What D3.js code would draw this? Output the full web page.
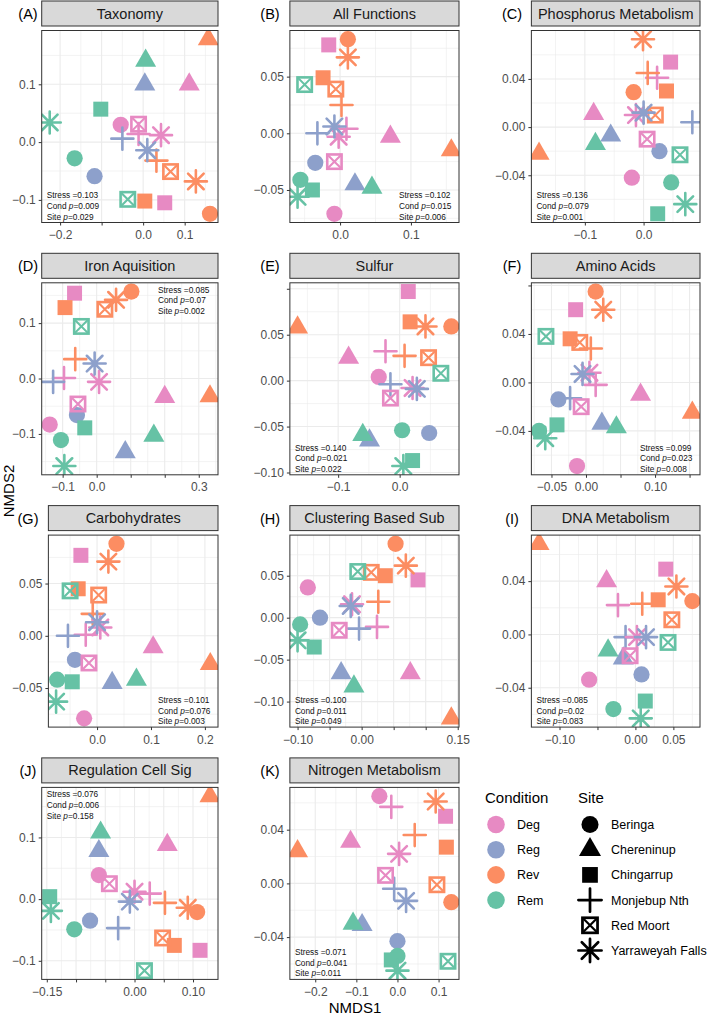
<!DOCTYPE html>
<html lang="en">
<head>
<meta charset="utf-8">
<title>NMDS panels</title>
<script src="https://cdnjs.cloudflare.com/ajax/libs/d3/7.8.5/d3.min.js"></script>
<style>
  body { margin: 0; background: #fff; }
  svg text { font-family: "Liberation Sans", Arial, Helvetica, sans-serif; }
</style>
</head>
<body>
<div id="chart"></div>
<script>
// categories
var conditions = ["Deg", "Reg", "Rev", "Rem"];
var condColors = ["#E78AC3", "#8DA0CB", "#FC8D62", "#66C2A5"];
var sites = ["Beringa", "Chereninup", "Chingarrup", "Monjebup Nth", "Red Moort", "Yarraweyah Falls"];
var siteCodes = ["Ber", "Che", "Chi", "Mon", "Red", "Yar"];

var titles = ["Taxonomy", "All Functions", "Phosphorus Metabolism", "Iron Aquisition", "Sulfur",
  "Amino Acids", "Carbohydrates", "Clustering Based Sub", "DNA Metabolism", "Regulation Cell Sig",
  "Nitrogen Metabolism"];
var tags = ["(A)", "(B)", "(C)", "(D)", "(E)", "(F)", "(G)", "(H)", "(I)", "(J)", "(K)"];

// stats per panel
var stress = ["0.103", "0.102", "0.136", "0.085", "0.140", "0.099", "0.101", "0.100", "0.085", "0.076", "0.071"];
var condP  = ["0.009", "0.015", "0.079", "0.07", "0.021", "0.023", "0.076", "0.011", "0.02", "0.006", "0.041"];
var siteP  = ["0.029", "0.006", "0.001", "0.002", "0.022", "0.008", "0.003", "0.049", "0.083", "0.158", "0.011"];
var statPos = ["bl", "br", "bl", "tr", "bl", "br", "br", "bl", "bl", "tl", "bl"];

// axis breaks and which of them carry a label
var xBreaks = [[-0.2, -0.1, 0, 0.1], [0, 0.1], [-0.1, 0], [-0.1, 0, 0.1, 0.2, 0.3], [-0.1, 0],
  [-0.05, 0, 0.05, 0.1, 0.15], [0, 0.1, 0.2], [-0.1, -0.05, 0, 0.05, 0.1, 0.15], [-0.1, -0.05, 0, 0.05],
  [-0.15, -0.1, -0.05, 0, 0.05, 0.1], [-0.2, -0.1, 0, 0.1]];
var xLabelled = [[-0.2, 0, 0.1], [0, 0.1], [-0.1, 0], [-0.1, 0, 0.3], [-0.1, 0], [-0.05, 0, 0.1],
  [0, 0.1, 0.2], [-0.1, 0, 0.15], [-0.1, 0, 0.05], [-0.15, 0, 0.1], [-0.2, -0.1, 0, 0.1]];
var xDigits = [1, 1, 1, 1, 1, 2, 1, 2, 2, 2, 1];
var yBreaks = [[-0.1, 0, 0.1], [-0.05, 0, 0.05], [-0.04, 0, 0.04], [-0.1, 0, 0.1], [-0.1, -0.05, 0, 0.05, 0.1],
  [-0.04, 0, 0.04, 0.08], [-0.05, 0, 0.05], [-0.1, -0.05, 0, 0.05], [-0.04, 0, 0.04], [-0.1, 0, 0.1],
  [-0.04, 0, 0.04]];
var yLabelled = [[-0.1, 0, 0.1], [-0.05, 0, 0.05], [-0.04, 0, 0.04], [-0.1, 0, 0.1], [-0.1, -0.05, 0, 0.05],
  [-0.04, 0, 0.04], [-0.05, 0, 0.05], [-0.1, -0.05, 0, 0.05], [-0.04, 0, 0.04], [-0.1, 0, 0.1],
  [-0.04, 0, 0.04]];
var yDigits = [1, 2, 2, 1, 2, 2, 2, 2, 2, 1, 2];

// points: [condition, site, NMDS1, NMDS2]
var ptsA = [["Rev","Che",0.157,0.178],["Rem","Che",0.006,0.141],["Reg","Che",0.004,0.100],["Deg","Che",0.111,0.100],
  ["Rem","Chi",-0.102,0.057],["Rem","Yar",-0.225,0.034],["Deg","Ber",-0.054,0.030],["Deg","Red",-0.011,0.031],
  ["Deg","Mon",-0.011,0.014],["Deg","Yar",0.043,0.012],["Reg","Mon",-0.050,0.006],["Reg","Yar",0.010,-0.014],
  ["Rev","Mon",0.032,-0.032],["Rev","Red",0.066,-0.051],["Rev","Yar",0.127,-0.068],["Rem","Ber",-0.165,-0.028],
  ["Reg","Ber",-0.117,-0.059],["Rem","Red",-0.037,-0.099],["Rev","Chi",0.004,-0.102],["Deg","Chi",0.052,-0.105],
  ["Rev","Ber",0.161,-0.124]];
var ptsB = [["Rev","Ber",0.011,0.083],["Deg","Chi",-0.016,0.078],["Rev","Yar",0.011,0.067],["Rev","Chi",-0.024,0.049],
  ["Rem","Red",-0.050,0.043],["Rev","Red",-0.006,0.039],["Rev","Mon",0.002,0.025],["Reg","Mon",-0.032,0.000],
  ["Reg","Yar",-0.008,0.006],["Deg","Mon",0.009,0.004],["Deg","Yar",-0.002,-0.003],["Deg","Che",0.071,-0.003],
  ["Rev","Che",0.157,-0.015],["Reg","Ber",-0.035,-0.026],["Deg","Red",-0.008,-0.025],["Reg","Che",0.021,-0.045],
  ["Rem","Che",0.045,-0.048],["Rem","Ber",-0.056,-0.041],["Rem","Chi",-0.039,-0.050],["Rem","Yar",-0.060,-0.056],
  ["Deg","Ber",-0.008,-0.071]];
var ptsC = [["Rev","Yar",-0.001,0.073],["Deg","Chi",0.046,0.054],["Rev","Mon",0.007,0.045],["Deg","Mon",0.023,0.041],
  ["Rev","Ber",-0.017,0.029],["Rev","Chi",0.039,0.030],["Deg","Yar",-0.013,0.010],["Reg","Yar",0.000,0.012],
  ["Rev","Red",0.020,0.010],["Deg","Che",-0.085,0.011],["Reg","Mon",0.083,0.004],["Reg","Che",-0.056,-0.007],
  ["Rem","Che",-0.082,-0.014],["Deg","Red",0.006,-0.010],["Rev","Che",-0.178,-0.022],["Reg","Ber",0.027,-0.020],
  ["Rem","Red",0.062,-0.023],["Deg","Ber",-0.020,-0.042],["Rem","Ber",0.047,-0.046],["Rem","Yar",0.071,-0.064],
  ["Rem","Chi",0.024,-0.072]];
var ptsD = [["Rev","Ber",0.102,0.157],["Deg","Chi",-0.065,0.154],["Rev","Yar",0.057,0.142],["Rev","Chi",-0.093,0.128],
  ["Rev","Red",0.024,0.125],["Rem","Red",-0.045,0.094],["Rev","Mon",-0.063,0.035],["Reg","Yar",-0.006,0.027],
  ["Deg","Mon",-0.096,0.001],["Reg","Mon",-0.128,-0.006],["Deg","Yar",0.007,-0.006],["Deg","Che",0.200,-0.033],
  ["Rev","Che",0.333,-0.032],["Deg","Red",-0.055,-0.046],["Reg","Ber",-0.058,-0.066],["Deg","Ber",-0.138,-0.083],
  ["Rem","Chi",-0.035,-0.089],["Rem","Ber",-0.105,-0.111],["Rem","Che",0.168,-0.103],["Reg","Che",0.084,-0.133],
  ["Rem","Yar",-0.095,-0.158]];
var ptsE = [["Deg","Chi",0.014,0.097],["Rev","Chi",0.017,0.064],["Rev","Yar",0.042,0.059],["Rev","Ber",0.084,0.059],
  ["Rev","Che",-0.166,0.058],["Deg","Mon",-0.023,0.032],["Rev","Mon",0.008,0.027],["Rev","Red",0.047,0.025],
  ["Deg","Che",-0.083,0.025],["Rem","Red",0.067,0.008],["Deg","Ber",-0.034,0.004],["Reg","Mon",-0.015,-0.004],
  ["Deg","Yar",0.021,-0.008],["Reg","Yar",0.028,-0.009],["Deg","Red",-0.015,-0.019],["Rem","Ber",0.004,-0.054],
  ["Reg","Ber",0.048,-0.057],["Rem","Che",-0.060,-0.059],["Reg","Che",-0.049,-0.065],["Rem","Chi",0.021,-0.087],
  ["Rem","Yar",0.006,-0.093]];
var ptsF = [["Rev","Ber",0.014,0.075],["Deg","Chi",-0.015,0.060],["Rev","Yar",0.025,0.060],["Rem","Red",-0.058,0.038],
  ["Rev","Chi",-0.023,0.036],["Rev","Red",-0.009,0.033],["Rev","Mon",0.007,0.028],["Reg","Yar",-0.005,0.007],
  ["Deg","Yar",0.005,0.008],["Deg","Mon",0.014,-0.002],["Reg","Ber",-0.040,-0.014],["Reg","Mon",-0.023,-0.013],
  ["Deg","Red",-0.007,-0.020],["Deg","Che",0.079,-0.010],["Rev","Che",0.154,-0.025],["Rem","Chi",-0.042,-0.035],
  ["Reg","Che",0.023,-0.034],["Rem","Che",0.044,-0.037],["Rem","Ber",-0.068,-0.040],["Rem","Yar",-0.059,-0.046],
  ["Deg","Ber",-0.013,-0.069]];
var ptsG = [["Rev","Ber",0.036,0.088],["Deg","Chi",-0.030,0.077],["Rev","Yar",0.021,0.071],["Rem","Red",-0.050,0.043],
  ["Rev","Chi",-0.035,0.045],["Rev","Red",0.003,0.039],["Rev","Mon",-0.008,0.021],["Reg","Yar",0.000,0.013],
  ["Deg","Yar",0.006,0.008],["Deg","Mon",-0.021,0.001],["Reg","Mon",-0.054,0.000],["Deg","Che",0.104,-0.011],
  ["Reg","Ber",-0.041,-0.023],["Deg","Red",-0.015,-0.026],["Rev","Che",0.210,-0.027],["Rem","Ber",-0.074,-0.042],
  ["Rem","Chi",-0.046,-0.044],["Rem","Che",0.073,-0.042],["Reg","Che",0.028,-0.045],["Rem","Yar",-0.076,-0.063],
  ["Deg","Ber",-0.024,-0.079]];
var ptsH = [["Rev","Ber",0.053,0.088],["Rev","Yar",0.069,0.062],["Rem","Red",-0.006,0.055],["Rev","Red",0.015,0.054],
  ["Rev","Chi",0.037,0.050],["Deg","Chi",0.088,0.045],["Deg","Ber",-0.084,0.036],["Rev","Mon",0.026,0.019],
  ["Reg","Yar",-0.017,0.014],["Deg","Yar",-0.015,0.016],["Reg","Ber",-0.065,0.000],["Rem","Ber",-0.096,-0.008],
  ["Deg","Mon",0.024,-0.011],["Reg","Mon",-0.004,-0.013],["Deg","Red",-0.035,-0.015],["Rem","Yar",-0.100,-0.027],
  ["Rem","Chi",-0.074,-0.035],["Reg","Che",-0.032,-0.066],["Deg","Che",0.076,-0.066],["Rem","Che",-0.012,-0.082],
  ["Rev","Che",0.140,-0.120]];
var ptsI = [["Rev","Che",-0.127,0.068],["Deg","Chi",0.040,0.049],["Deg","Che",-0.038,0.040],["Rev","Yar",0.054,0.036],
  ["Rev","Ber",0.075,0.025],["Rev","Chi",0.030,0.026],["Deg","Mon",-0.023,0.022],["Rev","Mon",0.009,0.023],
  ["Rev","Red",0.048,0.011],["Reg","Mon",-0.013,-0.002],["Deg","Yar",0.002,-0.002],["Reg","Yar",0.014,-0.002],
  ["Rem","Red",0.043,-0.006],["Rem","Che",-0.036,-0.012],["Deg","Red",-0.007,-0.016],["Reg","Che",-0.016,-0.018],
  ["Reg","Ber",0.008,-0.030],["Deg","Ber",-0.061,-0.034],["Rem","Chi",0.013,-0.050],["Rem","Ber",-0.029,-0.056],
  ["Rem","Yar",0.007,-0.063]];
var ptsJ = [["Rev","Che",0.129,0.167],["Rem","Che",-0.058,0.108],["Reg","Che",-0.061,0.078],["Deg","Che",0.056,0.088],
  ["Deg","Ber",-0.061,0.039],["Deg","Red",-0.043,0.025],["Deg","Yar",0.000,0.012],["Deg","Mon",0.026,0.009],
  ["Rem","Chi",-0.145,0.004],["Reg","Yar",-0.008,-0.004],["Rev","Mon",0.052,-0.006],["Rem","Yar",-0.143,-0.019],
  ["Rev","Yar",0.091,-0.014],["Rev","Ber",0.107,-0.021],["Reg","Ber",-0.076,-0.035],["Rem","Ber",-0.103,-0.049],
  ["Reg","Mon",-0.028,-0.047],["Rev","Red",0.048,-0.063],["Rev","Chi",0.068,-0.075],["Deg","Chi",0.112,-0.083],
  ["Rem","Red",0.017,-0.116]];
var ptsK = [["Deg","Ber",-0.044,0.065],["Deg","Mon",-0.015,0.057],["Rev","Yar",0.093,0.061],["Deg","Chi",0.117,0.050],
  ["Rev","Mon",0.042,0.036],["Deg","Che",-0.114,0.031],["Rev","Che",-0.243,0.024],["Rev","Chi",0.119,0.027],
  ["Deg","Yar",0.004,0.022],["Deg","Red",-0.029,0.006],["Rev","Red",0.096,-0.001],["Reg","Mon",-0.008,-0.004],
  ["Reg","Yar",0.021,-0.013],["Rev","Ber",0.131,-0.014],["Rem","Che",-0.108,-0.030],["Reg","Che",-0.086,-0.031],
  ["Reg","Ber",0.000,-0.043],["Rem","Ber",0.000,-0.054],["Rem","Chi",-0.015,-0.057],["Rem","Red",0.123,-0.058],
  ["Rem","Yar",0.000,-0.065]];

var panels = [ptsA, ptsB, ptsC, ptsD, ptsE, ptsF, ptsG, ptsH, ptsI, ptsJ, ptsK];

var W = 709, H = 1019;
var svg = d3.select("#chart").append("svg").attr("width", W).attr("height", H);
svg.append("rect").attr("width", W).attr("height", H).attr("fill", "#fff");

var color = d3.scaleOrdinal().domain(conditions).range(condColors);

function measure(txt, size) {
  var t = svg.append("text").attr("font-size", size).text(txt);
  var w = t.node().getComputedTextLength();
  t.remove();
  return w;
}

function fmt(v, digits) {
  var s = Math.abs(v).toFixed(digits);
  return (v < -1e-9 ? "\u2212" : "") + s;
}

function has(list, v) {
  return list.some(function(d) { return Math.abs(d - v) < 1e-9; });
}

// ggplot-ish point shapes
var R = 7.8, LW = 2.6;
function drawShape(g, site, cx, cy, col, scale) {
  var k = scale || 1, r = R * k;
  var s = g.append("g").attr("transform", "translate(" + cx + "," + cy + ")");
  if (site == "Ber") {
    s.append("circle").attr("r", r * 1.04).attr("fill", col);
  } else if (site == "Che") {
    var top = 1.555 * r, bot = 0.778 * r, hw = 1.347 * r;
    s.append("path").attr("d", "M0," + (-top) + "L" + hw + "," + bot + "L" + (-hw) + "," + bot + "Z").attr("fill", col);
  } else if (site == "Chi") {
    var h = r * 0.96;
    s.append("rect").attr("x", -h).attr("y", -h).attr("width", 2 * h).attr("height", 2 * h).attr("fill", col);
  } else if (site == "Mon") {
    var a = 1.414 * r;
    s.append("path").attr("d", "M" + (-a) + ",0H" + a + "M0," + (-a) + "V" + a)
      .attr("stroke", col).attr("stroke-width", LW * k).attr("stroke-linecap", "round").attr("fill", "none");
  } else if (site == "Red") {
    var b = r * 0.92;
    s.append("rect").attr("x", -b).attr("y", -b).attr("width", 2 * b).attr("height", 2 * b)
      .attr("fill", "none").attr("stroke", col).attr("stroke-width", LW * k);
    s.append("path").attr("d", "M" + (-b) + "," + (-b) + "L" + b + "," + b + "M" + (-b) + "," + b + "L" + b + "," + (-b))
      .attr("stroke", col).attr("stroke-width", LW * k * 0.8).attr("fill", "none");
  } else if (site == "Yar") {
    var p = 1.414 * r, q = r;
    s.append("path").attr("d", "M" + (-p) + ",0H" + p + "M0," + (-p) + "V" + p +
        "M" + (-q) + "," + (-q) + "L" + q + "," + q + "M" + (-q) + "," + q + "L" + q + "," + (-q))
      .attr("stroke", col).attr("stroke-width", LW * k).attr("stroke-linecap", "round").attr("fill", "none");
  }
}

panels.forEach(function(pts, i) {
  var col = i % 3, row = Math.floor(i / 3);
  var right = 218 + 241 * col;
  var labLeft = 12.5 + 241.5 * col;
  var maxW = d3.max(yLabelled[i], function(v) { return measure(fmt(v, yDigits[i]), 12); });
  var left = labLeft + maxW + 5.5;
  var rowTop = 1 + 252.3 * row;
  var top = rowTop + 29.5, bottom = top + 192;

  var xe = d3.extent(pts, function(d) { return d[2]; });
  var ye = d3.extent(pts, function(d) { return d[3]; });
  var xp = (xe[1] - xe[0]) * 0.05, yp = (ye[1] - ye[0]) * 0.05;
  var x = d3.scaleLinear().domain([xe[0] - xp, xe[1] + xp]).range([left, right]);
  var y = d3.scaleLinear().domain([ye[0] - yp, ye[1] + yp]).range([bottom, top]);

  var g = svg.append("g");
  g.append("rect").attr("x", left).attr("y", top).attr("width", right - left).attr("height", bottom - top).attr("fill", "#fff");

  // minor grid
  function minors(br, dom) {
    var step = br[1] - br[0], out = [];
    for (var k = -30; k <= 30; k++) {
      var v = br[0] + step * (k + 0.5);
      if (v > dom[0] && v < dom[1]) out.push(v);
    }
    return out;
  }
  var xd = x.domain(), yd = y.domain();
  g.selectAll(".mx").data(minors(xBreaks[i], xd)).enter().append("line")
    .attr("x1", function(d) { return x(d); }).attr("x2", function(d) { return x(d); })
    .attr("y1", top).attr("y2", bottom).attr("stroke", "#EBEBEB").attr("stroke-width", 0.6);
  g.selectAll(".my").data(minors(yBreaks[i], yd)).enter().append("line")
    .attr("y1", function(d) { return y(d); }).attr("y2", function(d) { return y(d); })
    .attr("x1", left).attr("x2", right).attr("stroke", "#EBEBEB").attr("stroke-width", 0.6);
  var xb = xBreaks[i].filter(function(v) { return v >= xd[0] && v <= xd[1]; });
  var yb = yBreaks[i].filter(function(v) { return v >= yd[0] && v <= yd[1]; });
  g.selectAll(".gx").data(xb).enter().append("line")
    .attr("x1", function(d) { return x(d); }).attr("x2", function(d) { return x(d); })
    .attr("y1", top).attr("y2", bottom).attr("stroke", "#EBEBEB").attr("stroke-width", 1.1);
  g.selectAll(".gy").data(yb).enter().append("line")
    .attr("y1", function(d) { return y(d); }).attr("y2", function(d) { return y(d); })
    .attr("x1", left).attr("x2", right).attr("stroke", "#EBEBEB").attr("stroke-width", 1.1);

  // points, drawn site by site
  var clipId = "clip" + i;
  svg.append("clipPath").attr("id", clipId).append("rect")
    .attr("x", left).attr("y", top).attr("width", right - left).attr("height", bottom - top);
  var pg = g.append("g").attr("clip-path", "url(#" + clipId + ")");
  var ordered = pts.slice().sort(function(a, b) {
    return (siteCodes.indexOf(a[1]) - siteCodes.indexOf(b[1])) || (conditions.indexOf(a[0]) - conditions.indexOf(b[0]));
  });
  ordered.forEach(function(d) {
    drawShape(pg, d[1], x(d[2]), y(d[3]), color(d[0]));
  });

  // border
  g.append("rect").attr("x", left).attr("y", top).attr("width", right - left).attr("height", bottom - top)
    .attr("fill", "none").attr("stroke", "#333").attr("stroke-width", 1);

  // axes
  var xAxis = d3.axisBottom(x).tickValues(xb).tickSize(3).tickPadding(5)
    .tickFormat(function(d) { return has(xLabelled[i], d) ? fmt(d, xDigits[i]) : ""; });
  var yAxis = d3.axisLeft(y).tickValues(yb).tickSize(3).tickPadding(3)
    .tickFormat(function(d) { return has(yLabelled[i], d) ? fmt(d, yDigits[i]) : ""; });
  var ax = g.append("g").attr("transform", "translate(0," + bottom + ")").call(xAxis);
  var ay = g.append("g").attr("transform", "translate(" + left + ",0)").call(yAxis);
  [ax, ay].forEach(function(a) {
    a.select(".domain").remove();
    a.selectAll("line").attr("stroke", "#333");
    a.selectAll("text").attr("fill", "#4D4D4D").attr("font-size", 12).attr("font-family", null);
  });

  // strip
  g.append("rect").attr("x", left).attr("y", rowTop).attr("width", right - left).attr("height", 25)
    .attr("fill", "#D9D9D9").attr("stroke", "#333").attr("stroke-width", 1);
  g.append("text").attr("x", (left + right) / 2).attr("y", rowTop + 17.5).attr("text-anchor", "middle")
    .attr("font-size", 14.5).attr("fill", "#1A1A1A").text(titles[i]);
  g.append("text").attr("x", 28 + 242 * col).attr("y", rowTop + 18).attr("text-anchor", "middle")
    .attr("font-size", 14.5).attr("fill", "#000").text(tags[i]);

  // stats block
  var pos = statPos[i];
  var sx = pos[1] == "l" ? left + 5 : right - 60;
  var lh = 10.6, fs = 8.3;
  var sy0 = pos[0] == "b" ? bottom - 3 - 2 * lh : top + 10;
  var st = g.append("g").attr("font-size", fs).attr("fill", "#111");
  st.append("text").attr("x", sx).attr("y", sy0).text("Stress =" + stress[i]);
  var t2 = st.append("text").attr("x", sx).attr("y", sy0 + lh);
  t2.append("tspan").text("Cond ");
  t2.append("tspan").attr("font-style", "italic").text("p");
  t2.append("tspan").text("=" + condP[i]);
  var t3 = st.append("text").attr("x", sx).attr("y", sy0 + 2 * lh);
  t3.append("tspan").text("Site ");
  t3.append("tspan").attr("font-style", "italic").text("p");
  t3.append("tspan").text("=" + siteP[i]);
});

// axis titles
svg.append("text").attr("x", 355).attr("y", 1013).attr("text-anchor", "middle")
  .attr("font-size", 15).attr("fill", "#000").text("NMDS1");
svg.append("text").attr("transform", "translate(14,491) rotate(-90)").attr("text-anchor", "middle")
  .attr("font-size", 15).attr("fill", "#000").text("NMDS2");

// legends
var lg = svg.append("g");
lg.append("text").attr("x", 485).attr("y", 803).attr("font-size", 15).attr("fill", "#000").text("Condition");
conditions.forEach(function(c, k) {
  var cy = 824.5 + 25.2 * k;
  lg.append("circle").attr("cx", 496).attr("cy", cy).attr("r", 8.8).attr("fill", color(c));
  lg.append("text").attr("x", 517).attr("y", cy + 4.5).attr("font-size", 12.5).attr("fill", "#000").text(c);
});
lg.append("text").attr("x", 578).attr("y", 803).attr("font-size", 15).attr("fill", "#000").text("Site");
sites.forEach(function(s, k) {
  var cy = 824.5 + 25.2 * k;
  drawShape(lg, siteCodes[k], 590, cy, "#000", 1.05);
  lg.append("text").attr("x", 611).attr("y", cy + 4.5).attr("font-size", 12.5).attr("fill", "#000").text(s);
});
</script>
</body>
</html>
